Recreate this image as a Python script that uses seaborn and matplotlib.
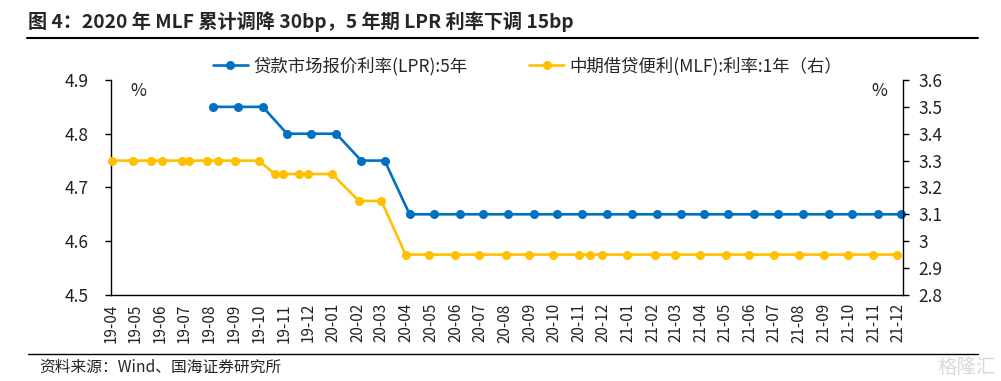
import pandas as pd
import matplotlib
matplotlib.use('Agg')
import matplotlib.pyplot as plt
import matplotlib.dates as mdates
from matplotlib.lines import Line2D
from matplotlib.ticker import FormatStrFormatter, FuncFormatter, MultipleLocator
import seaborn as sns

# 贷款市场报价利率(LPR):5年
lpr_dates = ['2019-08-20', '2019-09-20', '2019-10-21', '2019-11-20', '2019-12-20',
             '2020-01-20', '2020-02-20', '2020-03-20', '2020-04-20', '2020-05-20',
             '2020-06-22', '2020-07-20', '2020-08-20', '2020-09-21', '2020-10-20',
             '2020-11-20', '2020-12-21', '2021-01-20', '2021-02-20', '2021-03-22',
             '2021-04-20', '2021-05-20', '2021-06-21', '2021-07-20', '2021-08-20',
             '2021-09-22', '2021-10-20', '2021-11-22', '2021-12-20']
lpr_values = [4.85, 4.85, 4.85, 4.80, 4.80, 4.80, 4.75, 4.75] + [4.65] * 21

# 中期借贷便利(MLF):利率:1年
mlf_dates = ['2019-04-17', '2019-05-13', '2019-06-05', '2019-06-18', '2019-07-13',
             '2019-07-22', '2019-08-13', '2019-08-26', '2019-09-17', '2019-10-16',
             '2019-11-05', '2019-11-15', '2019-12-05', '2019-12-16', '2020-01-15',
             '2020-02-17', '2020-03-16',
             '2020-04-15', '2020-05-14', '2020-06-15', '2020-07-15', '2020-08-17',
             '2020-09-15', '2020-10-15', '2020-11-16', '2020-11-30', '2020-12-15',
             '2021-01-15', '2021-02-18', '2021-03-15', '2021-04-15', '2021-05-17',
             '2021-06-15', '2021-07-15', '2021-08-16', '2021-09-15', '2021-10-15',
             '2021-11-15', '2021-12-15']
mlf_values = [3.30] * 10 + [3.25] * 5 + [3.15] * 2 + [2.95] * 22

lpr_label = '贷款市场报价利率(LPR):5年'
mlf_label = '中期借贷便利(MLF):利率:1年（右）'
title = '图 4：2020 年 MLF 累计调降 30bp，5 年期 LPR 利率下调 15bp'
source = '资料来源：Wind、国海证券研究所'

df_lpr = pd.DataFrame({'date': pd.to_datetime(lpr_dates), 'rate': lpr_values})
df_mlf = pd.DataFrame({'date': pd.to_datetime(mlf_dates), 'rate': mlf_values})

blue = '#0070C0'
gold = '#FFC000'

sns.set_style('white')
plt.rcParams['font.family'] = ['Noto Sans CJK SC', 'DejaVu Sans']
plt.rcParams['axes.unicode_minus'] = False

fig, ax = plt.subplots(figsize=(10.01, 3.81), dpi=100)
fig.subplots_adjust(left=0.111, right=0.9025, top=0.79, bottom=0.226)
ax2 = ax.twinx()

sns.lineplot(data=df_lpr, x='date', y='rate', ax=ax, color=blue, marker='o',
             markersize=6.5, markeredgewidth=0, linewidth=1.9, clip_on=False, zorder=3)
sns.lineplot(data=df_mlf, x='date', y='rate', ax=ax2, color=gold, marker='o',
             markersize=6.5, markeredgewidth=0, linewidth=1.9, clip_on=False, zorder=3)

ax.set_ylim(4.5, 4.9)
ax2.set_ylim(2.8, 3.6)
ax.yaxis.set_major_locator(MultipleLocator(0.1))
ax2.yaxis.set_major_locator(MultipleLocator(0.1))
ax.yaxis.set_major_formatter(FormatStrFormatter('%.1f'))
ax2.yaxis.set_major_formatter(FuncFormatter(lambda v, p: f'{round(v, 1):g}'))

ax.set_xlim(pd.Timestamp('2019-04-16'), pd.Timestamp('2021-12-23'))
ax.xaxis.set_major_locator(mdates.MonthLocator(bymonthday=16))
ax.xaxis.set_major_formatter(mdates.DateFormatter('%y-%m'))

ax.set_xlabel('')
ax.set_ylabel('')
ax2.set_ylabel('')

for a in (ax, ax2):
    a.spines['top'].set_visible(False)
    for s in ('left', 'right', 'bottom'):
        a.spines[s].set_color('black')
        a.spines[s].set_linewidth(1)
    a.tick_params(axis='both', direction='out', length=4, width=1, color='black',
                  labelsize=12.5, labelcolor='#222222')
ax.tick_params(axis='x', labelsize=11, rotation=90, pad=2)
ax.tick_params(axis='y', pad=12)
ax2.tick_params(axis='y', pad=6.5)
ax.spines['right'].set_visible(False)
ax2.spines['left'].set_visible(False)
ax2.spines['bottom'].set_visible(False)

ax.text(0.024, 0.99, '%', transform=ax.transAxes, fontsize=12.5, va='top', color='#222222')
ax2.text(0.98, 0.99, '%', transform=ax2.transAxes, fontsize=12.5, va='top', ha='right', color='#222222')

handles = [Line2D([], [], color=blue, marker='o', markersize=6.5, lw=1.9, markeredgewidth=0),
           Line2D([], [], color=gold, marker='o', markersize=6.5, lw=1.9, markeredgewidth=0)]
fig.legend(handles, [lpr_label, mlf_label], loc='center', ncol=2, frameon=False,
           bbox_to_anchor=(0.527, 1 - 66 / 381), fontsize=12.5, handlelength=2.0,
           columnspacing=3.6, handletextpad=0.3)

fig.text(0.028, 1 - 22 / 381, title, fontsize=13.8, fontweight='bold', va='center', ha='left')
fig.add_artist(Line2D([0.027, 0.977], [1 - 38 / 381] * 2, color='black', lw=1.5))
fig.add_artist(Line2D([0.028, 0.977], [1 - 354 / 381] * 2, color='black', lw=1))
fig.text(0.039, 1 - 367 / 381, source, fontsize=11.3, va='center', ha='left')
fig.text(0.995, 1 - 367 / 381, '格隆汇', fontsize=14, va='center', ha='right', color='#d9d9d9')

fig.savefig('out.png', dpi=100)
